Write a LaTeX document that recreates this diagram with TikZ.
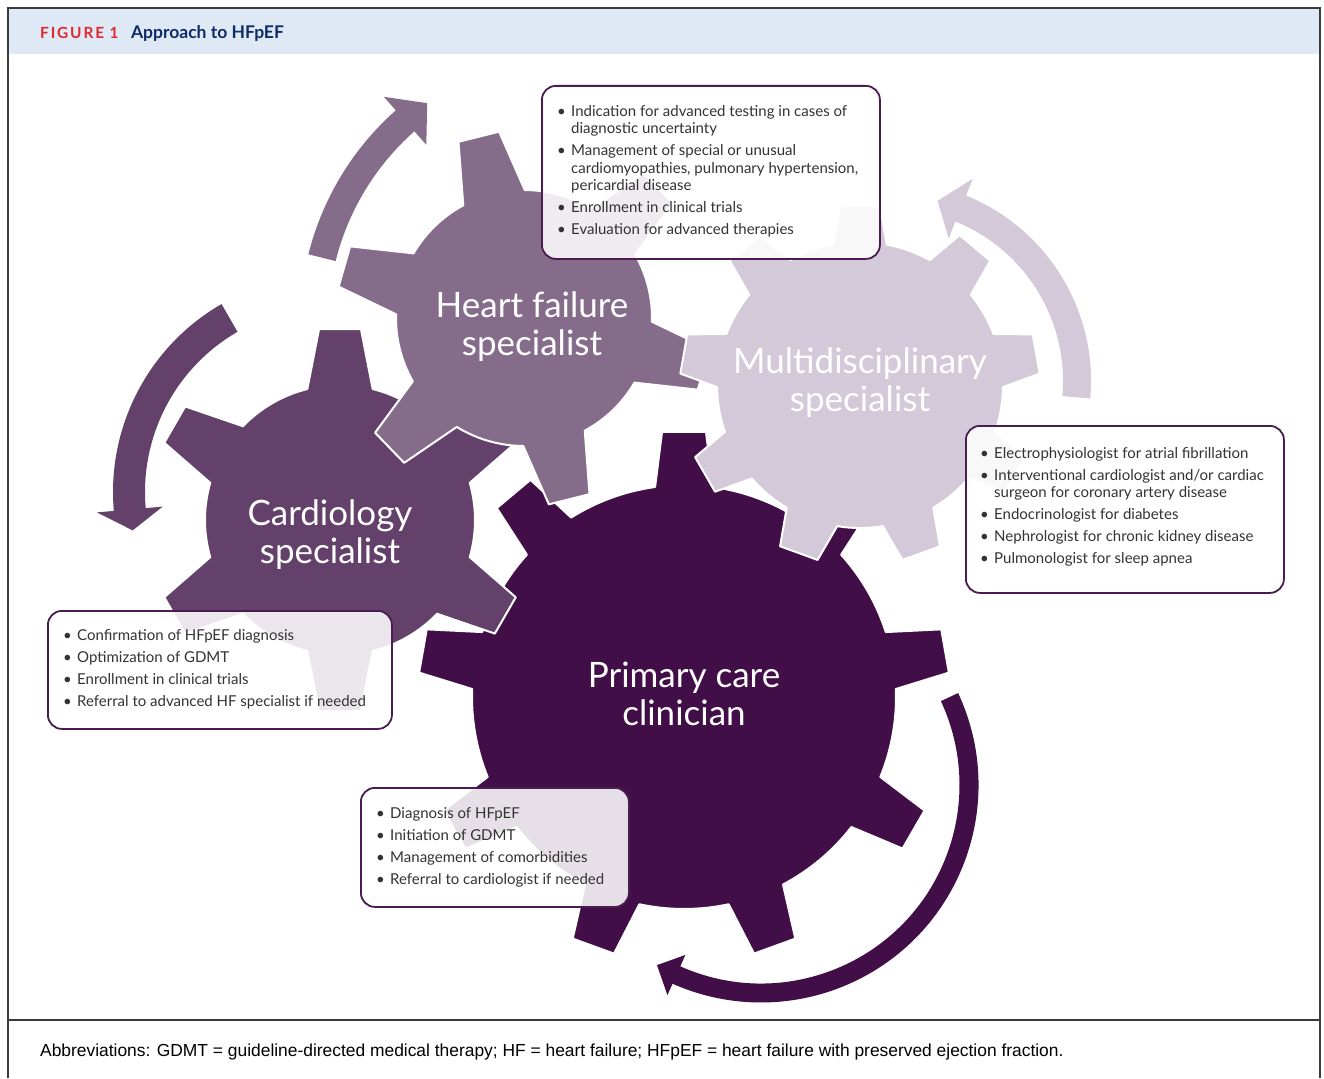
\documentclass[tikz,border=0pt]{standalone}
\usepackage{fontspec}
\setmainfont{Lato}
\newfontfamily\capfont{Liberation Sans}
\usetikzlibrary{positioning,calc}

\definecolor{pcgear}{HTML}{420E47}
\definecolor{cdgear}{HTML}{63416A}
\definecolor{hfgear}{HTML}{856C8B}
\definecolor{mdgear}{HTML}{D3C9D8}
\definecolor{boxline}{HTML}{4B1C52}
\definecolor{headband}{HTML}{DFE9F5}
\definecolor{figred}{HTML}{E0282F}
\definecolor{fignavy}{HTML}{0F2C66}
\definecolor{bodytext}{HTML}{333333}
\definecolor{framegray}{HTML}{3A3A3A}

% gear: cx, cy, teeth, inner r, outer r, phase, base half width, tip half width, colour
\newcommand{\drawgear}[9]{%
  \pgfmathsetmacro\gearba{deg(#7/#4)}%
  \pgfmathsetmacro\gearta{deg(#8/#5)}%
  \pgfmathsetmacro\gearst{360/#3}%
  \pgfmathtruncatemacro\gearlast{#3-1}%
  \begin{scope}[shift={(#1,#2)}]
    \filldraw[fill=#9, draw=white, line width=2pt, line join=round]
      ({#6-\gearba}:#4)
      \foreach \k in {0,...,\gearlast} {
        -- ({#6+\k*\gearst-\gearta}:#5) -- ({#6+\k*\gearst+\gearta}:#5)
        -- ({#6+\k*\gearst+\gearba}:#4)
        arc[start angle={#6+\k*\gearst+\gearba}, end angle={#6+(\k+1)*\gearst-\gearba}, radius=#4]
      } -- cycle;
  \end{scope}}

% curved block arrow: cx, cy, mid r, half band, start, head base, tip, head half width, colour
\newcommand{\drawcyclearrow}[9]{%
  \begin{scope}[shift={(#1,#2)}]
    \fill[#9] ({#5}:{#3+#4}) arc[start angle=#5, end angle=#6, radius={#3+#4}]
      -- ({#6}:{#3+#8}) -- ({#7}:{#3}) -- ({#6}:{#3-#8}) -- ({#6}:{#3-#4})
      arc[start angle=#6, end angle=#5, radius={#3-#4}] -- cycle;
  \end{scope}}

\newcommand{\itm}{\makebox[14pt][l]{\textbullet}}

\begin{document}
\begin{tikzpicture}[x=1pt, y=1pt]
  \tikzstyle{infobox} = [draw=boxline, line width=1.8pt, rounded corners=14pt, fill=white, fill opacity=0.87, inner sep=0pt, anchor=north west]
  \tikzstyle{boxtext} = [text=bodytext, font=\fontsize{15}{17.5}\selectfont, inner sep=0pt, anchor=north west]
  \tikzstyle{gearlabel} = [text=white, align=center, font=\fontsize{35}{38}\selectfont]
  \useasboundingbox (0,0) rectangle (1324,-1078);
  \fill[white] (0,0) rectangle (1324,-1078);

  % header and frame
  \fill[headband] (9,-9) rectangle (1319,-54);
  \draw[framegray, line width=1.6pt] (8,-1078) -- (8,-8) -- (1320,-8) -- (1320,-1078);
  \draw[framegray, line width=1.4pt] (8,-1020) -- (1320,-1020);
  \node[anchor=base west, inner sep=0pt, text=figred, font=\fontsize{15.4}{17}\selectfont\bfseries\addfontfeatures{LetterSpace=12}] (figno) at (40,-39) {FIGURE 1};
  \node[base right=12pt of figno, inner sep=0pt, text=fignavy, font=\fontsize{17.5}{19}\selectfont\bfseries] (figtitle) {Approach to HFpEF};

  % gears, bottom to top
  \drawgear{684}{-697}{9}{212}{266}{10}{29}{22}{pcgear}
  \drawgear{340}{-520}{6}{135}{192}{30}{33}{21}{cdgear}
  \drawgear{524}{-318}{6}{128}{188}{104}{32}{21}{hfgear}
  \drawgear{860}{-385}{9}{143}{180}{10}{27}{20}{mdgear}

  % arrows round the gears
  \drawcyclearrow{584}{-323}{270}{14}{166}{131.5}{125.5}{32}{hfgear}
  \drawcyclearrow{330}{-492}{201}{16}{120}{185}{191}{33}{cdgear}
  \drawcyclearrow{891}{-381}{186}{14}{-5}{68}{75.5}{32}{mdgear}
  \drawcyclearrow{761}{-785}{208}{9.5}{25}{-114}{-120}{22}{pcgear}

  % gear labels
  \node[gearlabel] (hflabel) at (532,-327) {Heart failure\\specialist};
  \node[gearlabel] (mdlabel) at (860,-383) {Multidisciplinary\\specialist};
  \node[gearlabel] (cdlabel) at (330,-535) {Cardiology\\specialist};
  \node[gearlabel] (pclabel) at (684,-694) {Primary care\\clinician};

  % boxes
  \node[infobox, minimum width=338pt, minimum height=173pt] (hfbox) at (541,-85) {};
  \node[boxtext] (hftext) at ([xshift=16pt, yshift=-19pt]hfbox.north west) {%
    \begin{tabular}{@{}l@{}l@{}}
    \itm & Indication for advanced testing in cases of\\
         & diagnostic uncertainty\\[4.5pt]
    \itm & Management of special or unusual\\
         & cardiomyopathies, pulmonary hypertension,\\
         & pericardial disease\\[4.5pt]
    \itm & Enrollment in clinical trials\\[4.5pt]
    \itm & Evaluation for advanced therapies
    \end{tabular}};

  \node[infobox, minimum width=318pt, minimum height=167pt] (mdbox) at (965,-425) {};
  \node[boxtext] (mdtext) at ([xshift=15pt, yshift=-21pt]mdbox.north west) {%
    \begin{tabular}{@{}l@{}l@{}}
    \itm & Electrophysiologist for atrial fibrillation\\[4.5pt]
    \itm & Interventional cardiologist and/or cardiac\\
         & surgeon for coronary artery disease\\[4.5pt]
    \itm & Endocrinologist for diabetes\\[4.5pt]
    \itm & Nephrologist for chronic kidney disease\\[4.5pt]
    \itm & Pulmonologist for sleep apnea
    \end{tabular}};

  \node[infobox, minimum width=344pt, minimum height=118pt] (cdbox) at (47,-610) {};
  \node[boxtext] (cdtext) at ([xshift=16pt, yshift=-18pt]cdbox.north west) {%
    \begin{tabular}{@{}l@{}l@{}}
    \itm & Confirmation of HFpEF diagnosis\\[4.5pt]
    \itm & Optimization of GDMT\\[4.5pt]
    \itm & Enrollment in clinical trials\\[4.5pt]
    \itm & Referral to advanced HF specialist if needed
    \end{tabular}};

  \node[infobox, minimum width=268pt, minimum height=119pt] (pcbox) at (360,-787) {};
  \node[boxtext] (pctext) at ([xshift=16pt, yshift=-19pt]pcbox.north west) {%
    \begin{tabular}{@{}l@{}l@{}}
    \itm & Diagnosis of HFpEF\\[4.5pt]
    \itm & Initiation of GDMT\\[4.5pt]
    \itm & Management of comorbidities\\[4.5pt]
    \itm & Referral to cardiologist if needed
    \end{tabular}};

  % footnote
  \node[anchor=base west, inner sep=0pt, text=black, font=\capfont\fontsize{17.4}{20}\selectfont] (abbrev) at (40,-1056) {Abbreviations: GDMT = guideline-directed medical therapy; HF = heart failure; HFpEF = heart failure with preserved ejection fraction.};
\end{tikzpicture}
\end{document}
